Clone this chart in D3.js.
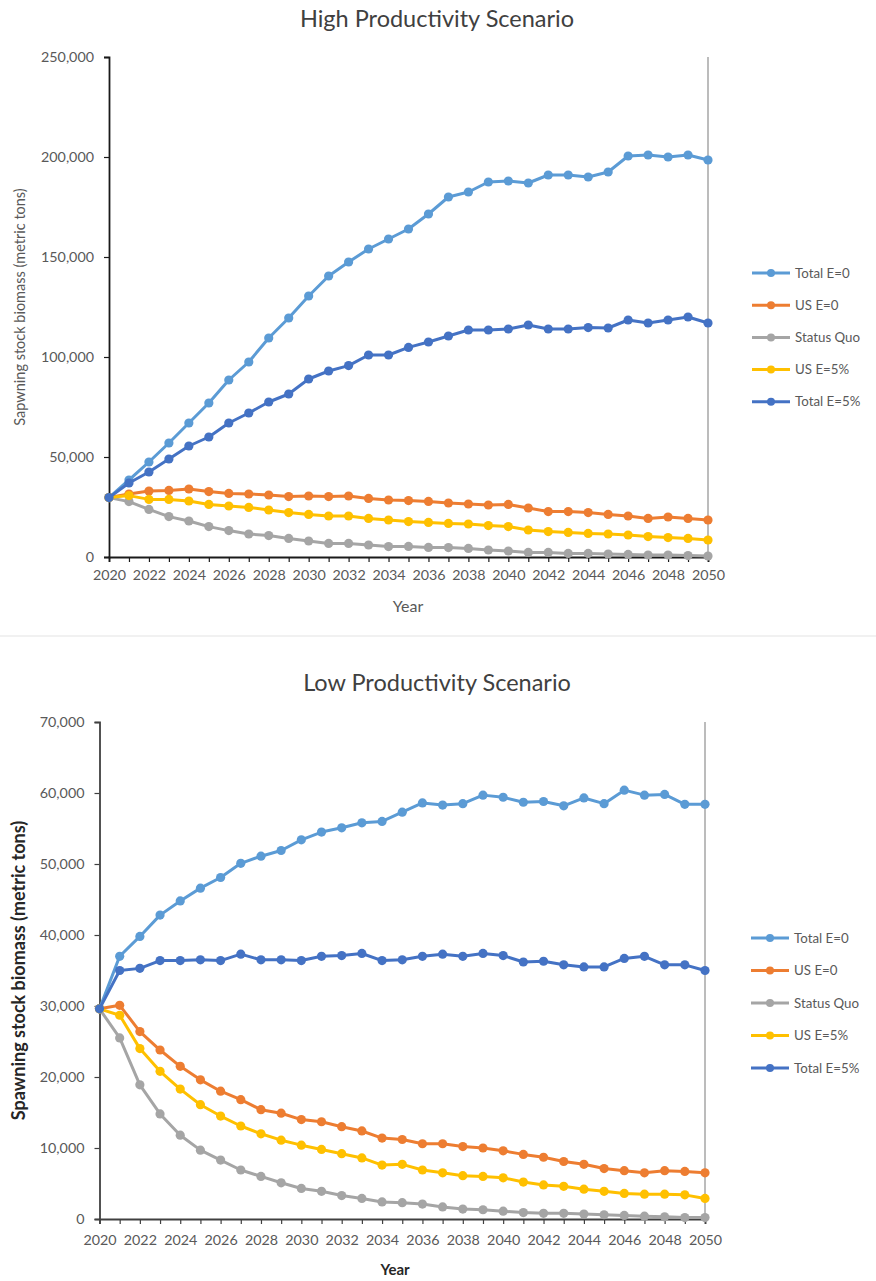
<!DOCTYPE html>
<html>
<head>
<meta charset="utf-8">
<script src="https://cdn.jsdelivr.net/npm/d3@7"></script>
<style>
  html, body { margin: 0; padding: 0; background: #ffffff; }
  svg { display: block; font-family: Lato, "Open Sans", sans-serif; }
</style>
</head>
<body>
<svg id="chart" width="876" height="1281"></svg>
<script>
// Projection years
const years = [2020, 2021, 2022, 2023, 2024, 2025, 2026, 2027, 2028, 2029, 2030,
  2031, 2032, 2033, 2034, 2035, 2036, 2037, 2038, 2039, 2040,
  2041, 2042, 2043, 2044, 2045, 2046, 2047, 2048, 2049, 2050];
const xTickLabels = [2020, 2022, 2024, 2026, 2028, 2030, 2032, 2034, 2036, 2038, 2040, 2042, 2044, 2046, 2048, 2050];
const seriesNames = ["Total E=0", "US E=0", "Status Quo", "US E=5%", "Total E=5%"];

// High productivity scenario, spawning stock biomass (metric tons)
const hiTotalE0 = [29700, 38500, 47500, 57000, 67000, 77000, 88500, 97500, 109500, 119500, 130500,
  140500, 147500, 154000, 159000, 164000, 171500, 180000, 182500, 187500, 188000,
  187000, 191000, 191000, 190000, 192500, 200500, 201000, 200000, 201000, 198500];
const hiUSE0 = [29700, 31500, 33000, 33300, 34000, 32700, 31800, 31500, 31000, 30200, 30500,
  30200, 30500, 29300, 28500, 28200, 27800, 27000, 26500, 26000, 26300,
  24500, 22700, 22700, 22200, 21300, 20500, 19300, 20000, 19300, 18500];
const hiStatusQuo = [29700, 27700, 23800, 20200, 18000, 15200, 13200, 11500, 10700, 9300, 8000,
  6800, 6800, 6000, 5200, 5300, 4800, 4700, 4300, 3500, 3000,
  2300, 2300, 1800, 1800, 1500, 1300, 1000, 1000, 700, 500];
const hiUSE5 = [29700, 30700, 28800, 28800, 28000, 26300, 25500, 24800, 23500, 22200, 21300,
  20500, 20500, 19300, 18500, 17700, 17300, 16800, 16500, 15700, 15200,
  13500, 12700, 12300, 11800, 11500, 11000, 10200, 9700, 9300, 8500];
const hiTotalE5 = [29700, 37000, 42500, 49000, 55500, 60000, 67000, 72000, 77500, 81500, 89000,
  93000, 95700, 101000, 101000, 104800, 107500, 110500, 113500, 113500, 114000,
  116000, 114000, 114000, 114700, 114500, 118500, 117000, 118500, 120000, 117000];

// Low productivity scenario, spawning stock biomass (metric tons)
const loTotalE0 = [29600, 37000, 39800, 42800, 44800, 46600, 48100, 50100, 51100, 51900, 53400,
  54500, 55100, 55800, 56000, 57300, 58600, 58300, 58500, 59700, 59400,
  58700, 58800, 58200, 59300, 58500, 60400, 59700, 59800, 58400, 58400];
const loUSE0 = [29600, 30100, 26400, 23800, 21500, 19600, 18000, 16800, 15400, 14900, 14000,
  13700, 13000, 12400, 11400, 11200, 10600, 10600, 10200, 10000, 9600,
  9100, 8700, 8100, 7700, 7100, 6800, 6500, 6800, 6700, 6500];
const loStatusQuo = [29600, 25500, 18900, 14800, 11800, 9700, 8300, 6900, 6000, 5100, 4300,
  3900, 3300, 2900, 2400, 2300, 2100, 1700, 1400, 1300, 1100,
  900, 800, 800, 700, 600, 500, 400, 300, 200, 200];
const loUSE5 = [29600, 28700, 24000, 20800, 18300, 16100, 14500, 13100, 12000, 11100, 10400,
  9800, 9200, 8600, 7600, 7700, 6900, 6500, 6100, 6000, 5800,
  5200, 4800, 4600, 4200, 3900, 3600, 3500, 3500, 3400, 2900];
const loTotalE5 = [29600, 35000, 35300, 36400, 36400, 36500, 36400, 37300, 36500, 36500, 36400,
  37000, 37100, 37400, 36400, 36500, 37000, 37300, 37000, 37400, 37100,
  36200, 36300, 35800, 35500, 35500, 36700, 37000, 35800, 35800, 35000];

const hiTicks = [0, 50000, 100000, 150000, 200000, 250000];
const loTicks = [0, 10000, 20000, 30000, 40000, 50000, 60000, 70000];

const colors = ["#5B9BD5", "#ED7D31", "#A5A5A5", "#FFC000", "#4472C4"];

const svg = d3.select("#chart");
const fmt = d3.format(",");

function drawPanel(cfg) {
  const g = svg.append("g");
  const x = d3.scaleLinear().domain([2020, 2050]).range([cfg.left, cfg.right]);
  const y = d3.scaleLinear().domain([0, cfg.yMax]).range([cfg.bottom, cfg.top]);

  // right frame edge
  g.append("line")
    .attr("x1", cfg.right).attr("x2", cfg.right)
    .attr("y1", cfg.top).attr("y2", cfg.bottom)
    .attr("stroke", "#a6a6a6").attr("stroke-width", 1.5);

  // y axis
  const ya = g.append("g")
    .attr("transform", `translate(${cfg.left},0)`)
    .call(d3.axisLeft(y).tickValues(cfg.yTicks).tickFormat(fmt).tickSize(5).tickPadding(10));
  ya.select(".domain").attr("stroke", cfg.axisColor).attr("stroke-width", 1.8);
  ya.selectAll(".tick line").attr("stroke", cfg.axisColor).attr("stroke-width", 1.2);
  ya.selectAll(".tick text").attr("fill", "#595959").attr("font-size", 14.3)
    .attr("font-family", "Lato, sans-serif");

  // x axis: tick every year, label every other year
  const xa = g.append("g")
    .attr("transform", `translate(0,${cfg.bottom})`)
    .call(d3.axisBottom(x).tickValues(years).tickSize(5).tickPadding(cfg.xPad)
      .tickFormat(d => xTickLabels.includes(d) ? String(d) : ""));
  xa.select(".domain").attr("stroke", cfg.axisColor).attr("stroke-width", 1.8);
  xa.selectAll(".tick line").attr("stroke", cfg.axisColor).attr("stroke-width", 1.2);
  xa.selectAll(".tick text").attr("fill", "#595959").attr("font-size", 14.3)
    .attr("font-family", "Lato, sans-serif");

  // titles
  g.append("text")
    .attr("x", cfg.titleX).attr("y", cfg.titleY)
    .attr("text-anchor", "middle")
    .attr("fill", "#404040").attr("font-size", 23.5)
    .text(cfg.title);

  g.append("text")
    .attr("transform", `translate(${cfg.yLabelX},${(cfg.top + cfg.bottom) / 2}) rotate(-90)`)
    .attr("text-anchor", "middle")
    .attr("fill", cfg.labelBold ? "#262626" : "#595959")
    .attr("font-weight", cfg.labelBold ? "bold" : "normal")
    .attr("font-size", cfg.labelBold ? 18 : 14.5)
    .text(cfg.yLabel);

  g.append("text")
    .attr("x", cfg.xLabelX).attr("y", cfg.xLabelY)
    .attr("text-anchor", "middle")
    .attr("fill", cfg.labelBold ? "#262626" : "#595959")
    .attr("font-weight", cfg.labelBold ? "bold" : "normal")
    .attr("font-size", cfg.labelBold ? 15 : 16)
    .text("Year");

  // series lines and markers
  const line = d3.line().x((d, i) => x(years[i])).y(d => y(d));
  cfg.series.forEach((vals, si) => {
    const sg = g.append("g");
    sg.append("path")
      .attr("d", line(vals))
      .attr("fill", "none")
      .attr("stroke", colors[si])
      .attr("stroke-width", 3)
      .attr("stroke-linejoin", "round");
    sg.selectAll("circle").data(vals).join("circle")
      .attr("cx", (d, i) => x(years[i]))
      .attr("cy", d => y(d))
      .attr("r", 4.6)
      .attr("fill", colors[si]);
  });

  // legend
  const lg = g.append("g");
  seriesNames.forEach((name, si) => {
    const ly = cfg.legendY0 + si * cfg.legendStep;
    lg.append("line")
      .attr("x1", cfg.legendX).attr("x2", cfg.legendX + 38)
      .attr("y1", ly).attr("y2", ly)
      .attr("stroke", colors[si]).attr("stroke-width", 3);
    lg.append("circle")
      .attr("cx", cfg.legendX + 19).attr("cy", ly).attr("r", 4)
      .attr("fill", colors[si]);
    lg.append("text")
      .attr("x", cfg.legendX + 43).attr("y", ly)
      .attr("dy", "0.35em")
      .attr("fill", "#595959").attr("font-size", 13.3)
      .text(name);
  });
}

drawPanel({
  left: 109, right: 708, top: 57, bottom: 557,
  yMax: 250000, yTicks: hiTicks, axisColor: "#1a1a1a", xPad: 8,
  title: "High Productivity Scenario", titleX: 437, titleY: 27,
  yLabel: "Sapwning stock biomass (metric tons)", yLabelX: 25, labelBold: false,
  xLabelX: 408, xLabelY: 612,
  legendX: 752, legendY0: 273, legendStep: 32.2,
  series: [hiTotalE0, hiUSE0, hiStatusQuo, hiUSE5, hiTotalE5]
});

// divider between the two panels
svg.append("line")
  .attr("x1", 0).attr("x2", 876).attr("y1", 636).attr("y2", 636)
  .attr("stroke", "#e3e3e3").attr("stroke-width", 1);

drawPanel({
  left: 99.5, right: 705, top: 722, bottom: 1219,
  yMax: 70000, yTicks: loTicks, axisColor: "#404040", xPad: 11,
  title: "Low Productivity Scenario", titleX: 437, titleY: 691,
  yLabel: "Spawning stock biomass (metric tons)", yLabelX: 25, labelBold: true,
  xLabelX: 395, xLabelY: 1275,
  legendX: 751, legendY0: 938, legendStep: 32.5,
  series: [loTotalE0, loUSE0, loStatusQuo, loUSE5, loTotalE5]
});
</script>
</body>
</html>
